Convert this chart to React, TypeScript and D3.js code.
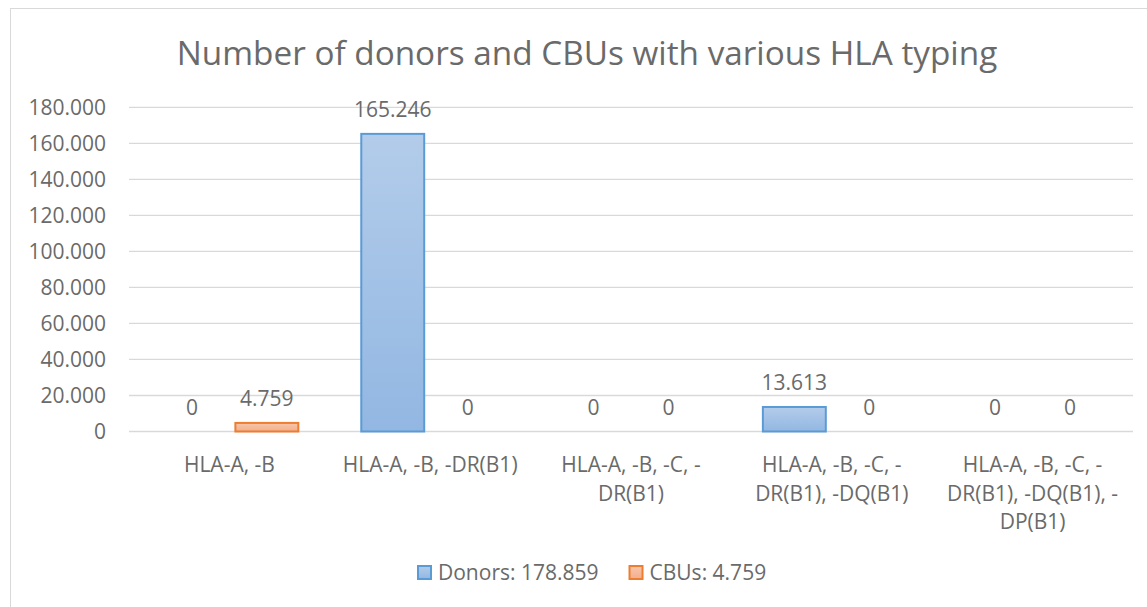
import { useEffect, useRef } from "react";
import * as d3 from "d3";

// categories (axis labels pre-wrapped the way the original shows them)
const categories = [
  "HLA-A, -B",
  "HLA-A, -B, -DR(B1)",
  "HLA-A, -B, -C, -DR(B1)",
  "HLA-A, -B, -C, -DR(B1), -DQ(B1)",
  "HLA-A, -B, -C, -DR(B1), -DQ(B1), -DP(B1)",
];
const categoryLines = [
  ["HLA-A, -B"],
  ["HLA-A, -B, -DR(B1)"],
  ["HLA-A, -B, -C, -", "DR(B1)"],
  ["HLA-A, -B, -C, -", "DR(B1), -DQ(B1)"],
  ["HLA-A, -B, -C, -", "DR(B1), -DQ(B1), -", "DP(B1)"],
];
const seriesNames = ["Donors", "CBUs"];
const donors = [0, 165246, 0, 13613, 0];
const cbus = [4759, 0, 0, 0, 0];
const yTicks = [0, 20000, 40000, 60000, 80000, 100000, 120000, 140000, 160000, 180000];

const TITLE = "Number of donors and CBUs with various HLA typing";
const FONT = "'Open Sans', 'Noto Sans', sans-serif";
const TEXT = "#6a6a6a";

export default function App() {
  const ref = useRef<SVGSVGElement>(null);

  useEffect(() => {
    if (!ref.current) return;
    const svg = d3.select(ref.current);
    svg.selectAll("*").remove();

    const W = 1147;
    const H = 607;
    const plot = { left: 129, right: 1133, top: 107.3, bottom: 431.5 };

    const fmt = d3
      .formatLocale({ decimal: ",", thousands: ".", grouping: [3], currency: ["", ""] })
      .format(",d");

    // gradients
    const defs = svg.append("defs");
    const grads = [
      { id: "gDonors", top: "#B3CCEA", bottom: "#92B7E2" },
      { id: "gCBUs", top: "#F8C6AC", bottom: "#F3AE8B" },
    ];
    grads.forEach((g) => {
      const lg = defs
        .append("linearGradient")
        .attr("id", g.id)
        .attr("x1", 0)
        .attr("y1", 0)
        .attr("x2", 0)
        .attr("y2", 1);
      lg.append("stop").attr("offset", "0%").attr("stop-color", g.top);
      lg.append("stop").attr("offset", "100%").attr("stop-color", g.bottom);
    });
    const fillOf: Record<string, string> = { Donors: "url(#gDonors)", CBUs: "url(#gCBUs)" };
    const strokeOf: Record<string, string> = { Donors: "#5B9BD5", CBUs: "#ED7D31" };

    // chart border
    svg
      .append("rect")
      .attr("x", 10.5)
      .attr("y", 8.5)
      .attr("width", W + 20)
      .attr("height", H + 20)
      .attr("fill", "#fff")
      .attr("stroke", "#D9D9D9")
      .attr("stroke-width", 1);

    // title
    svg
      .append("text")
      .attr("x", 587)
      .attr("y", 65)
      .attr("text-anchor", "middle")
      .attr("font-family", FONT)
      .attr("font-size", 33.3)
      .attr("fill", TEXT)
      .text(TITLE);

    const x = d3.scaleBand().domain(categories).range([plot.left, plot.right]);
    const xs = d3
      .scaleBand()
      .domain(seriesNames)
      .range([0, x.bandwidth()])
      .paddingInner(0.16)
      .paddingOuter(0.42);
    const y = d3.scaleLinear().domain([0, 180000]).range([plot.bottom, plot.top]);

    // gridlines + y labels
    const yAxis = svg.append("g");
    yAxis
      .selectAll("line")
      .data(yTicks)
      .enter()
      .append("line")
      .attr("x1", plot.left)
      .attr("x2", plot.right)
      .attr("y1", (d) => y(d))
      .attr("y2", (d) => y(d))
      .attr("stroke", "#D9D9D9")
      .attr("stroke-width", 1.3);
    yAxis
      .selectAll("text")
      .data(yTicks)
      .enter()
      .append("text")
      .attr("x", 106)
      .attr("y", (d) => y(d))
      .attr("dy", "0.35em")
      .attr("text-anchor", "end")
      .attr("font-family", FONT)
      .attr("font-size", 21)
      .attr("fill", TEXT)
      .text((d) => fmt(d));

    // bars
    const rows = categories.map((c, i) => ({ cat: c, Donors: donors[i], CBUs: cbus[i] }));
    const groups = svg
      .append("g")
      .selectAll("g")
      .data(rows)
      .enter()
      .append("g")
      .attr("transform", (d) => `translate(${x(d.cat)},0)`);

    const cells = groups
      .selectAll("g")
      .data((d) => seriesNames.map((s) => ({ key: s, value: (d as any)[s] as number })))
      .enter()
      .append("g");

    cells
      .filter((d) => d.value > 0)
      .append("rect")
      .attr("x", (d) => xs(d.key)!)
      .attr("width", xs.bandwidth())
      .attr("y", (d) => y(d.value))
      .attr("height", (d) => y(0) - y(d.value))
      .attr("fill", (d) => fillOf[d.key])
      .attr("stroke", (d) => strokeOf[d.key])
      .attr("stroke-width", 2);

    cells
      .append("text")
      .attr("x", (d) => xs(d.key)! + xs.bandwidth() / 2)
      .attr("y", (d) => y(d.value) - 24)
      .attr("dy", "0.35em")
      .attr("text-anchor", "middle")
      .attr("font-family", FONT)
      .attr("font-size", 21)
      .attr("fill", TEXT)
      .text((d) => fmt(d.value));

    // category labels
    const xl = svg.append("g");
    categories.forEach((c, i) => {
      const t = xl
        .append("text")
        .attr("x", x(c)! + x.bandwidth() / 2)
        .attr("y", 465)
        .attr("text-anchor", "middle")
        .attr("font-family", FONT)
        .attr("font-size", 21)
        .attr("fill", TEXT);
      categoryLines[i].forEach((line, j) => {
        t.append("tspan")
          .attr("x", x(c)! + x.bandwidth() / 2)
          .attr("y", 465 + j * 28.4)
          .attr("dy", "0.35em")
          .text(line);
      });
    });

    // legend
    const totals = [d3.sum(donors), d3.sum(cbus)];
    const legend = svg.append("g");
    let lx = 418;
    seriesNames.forEach((s, i) => {
      legend
        .append("rect")
        .attr("x", lx)
        .attr("y", 566)
        .attr("width", 13)
        .attr("height", 13)
        .attr("fill", fillOf[s])
        .attr("stroke", strokeOf[s])
        .attr("stroke-width", 2);
      const t = legend
        .append("text")
        .attr("x", lx + 20)
        .attr("y", 573)
        .attr("dy", "0.35em")
        .attr("font-family", FONT)
        .attr("font-size", 21)
        .attr("fill", TEXT)
        .text(`${s}: ${fmt(totals[i])}`);
      const tw = (t.node() as SVGTextElement).getComputedTextLength();
      lx += 20 + tw + 31;
    });
  }, []);

  return (
    <svg
      ref={ref}
      width={1147}
      height={607}
      style={{ position: "absolute", left: 0, top: 0, background: "#fff" }}
    />
  );
}
